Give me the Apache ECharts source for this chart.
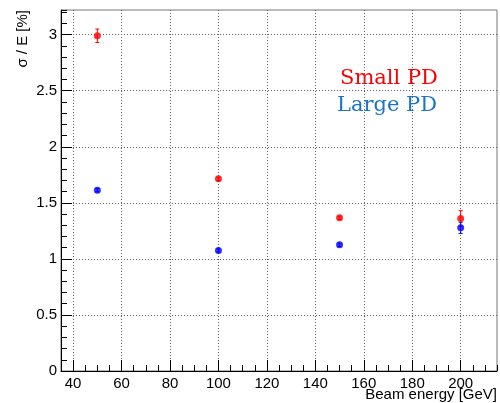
<!DOCTYPE html>
<html>
<head>
<meta charset="utf-8">
<script src="https://cdn.jsdelivr.net/npm/echarts@6/dist/echarts.min.js"></script>
<style>html,body{margin:0;padding:0;background:#fff}#c{width:500px;height:403px}</style>
</head>
<body>
<div id="c"></div>
<script>
const energies = [50, 100, 150, 200];
const smallPD = [2.99, 1.714, 1.366, 1.36];
const smallErr = [0.06, 0.015, 0.015, 0.07];
const largePD = [1.613, 1.075, 1.125, 1.277];
const largeErr = [0.015, 0.015, 0.015, 0.05];
const xTicks = [40, 60, 80, 100, 120, 140, 160, 180, 200];
const yTicks = [0, 0.5, 1, 1.5, 2, 2.5, 3];
const xRange = [35, 215];
const yRange = [0, 3.22];

const chart = echarts.init(document.getElementById('c'), null, {renderer: 'canvas'});

function errData(vals, errs) {
  return energies.map((e, i) => [e, vals[i], errs[i]]);
}
function errRender(color) {
  return function (params, api) {
    const x = api.value(0), y = api.value(1), e = api.value(2);
    const top = api.coord([x, y + e]);
    const bot = api.coord([x, y - e]);
    const st = {stroke: color, lineWidth: 1};
    return {
      type: 'group',
      children: [
        {type: 'line', shape: {x1: top[0], y1: top[1], x2: bot[0], y2: bot[1]}, style: st},
        {type: 'line', shape: {x1: top[0] - 2, y1: top[1], x2: top[0] + 2, y2: top[1]}, style: st},
        {type: 'line', shape: {x1: bot[0] - 2, y1: bot[1], x2: bot[0] + 2, y2: bot[1]}, style: st}
      ]
    };
  };
}

const font = 'Liberation Sans, Arial, sans-serif';
chart.setOption({
  animation: false,
  backgroundColor: '#fff',
  grid: {left: 61, top: 10, right: 3, bottom: 32, show: true, borderColor: '#777', borderWidth: 1},
  xAxis: [
    {
      type: 'value', min: xRange[0], max: xRange[1], position: 'bottom',
      axisLine: {show: true, onZero: false, lineStyle: {color: '#000', width: 1}},
      axisTick: {show: true, inside: true, length: 11, customValues: xTicks, lineStyle: {color: '#000'}},
      axisLabel: {customValues: xTicks, color: '#000', fontSize: 15, fontFamily: font, margin: 5},
      splitLine: {show: true, lineStyle: {color: '#666', type: [1, 2], width: 1}}
    },
    {
      type: 'value', min: xRange[0], max: xRange[1], interval: 5, position: 'bottom',
      axisLine: {show: false}, axisLabel: {show: false}, splitLine: {show: false},
      axisTick: {show: true, inside: true, length: 6, lineStyle: {color: '#000'}}
    }
  ],
  yAxis: [
    {
      type: 'value', min: yRange[0], max: yRange[1], position: 'left',
      axisLine: {show: true, onZero: false, lineStyle: {color: '#000', width: 1}},
      axisTick: {show: true, inside: true, length: 11, customValues: yTicks, lineStyle: {color: '#000'}},
      axisLabel: {customValues: yTicks, color: '#000', fontSize: 15, fontFamily: font, margin: 4},
      splitLine: {show: true, lineStyle: {color: '#666', type: [1, 2], width: 1}}
    },
    {
      type: 'value', min: yRange[0], max: yRange[1], interval: 0.1, position: 'left',
      axisLine: {show: false}, axisLabel: {show: false}, splitLine: {show: false},
      axisTick: {show: true, inside: true, length: 6, lineStyle: {color: '#000'}}
    }
  ],
  graphic: [
    {type: 'text', x: 23, y: 10, rotation: Math.PI / 2,
     style: {text: 'σ / E [%]', font: '15px ' + font, fill: '#000', textAlign: 'right', textVerticalAlign: 'middle'}},
    {type: 'text', x: 497, y: 395,
     style: {text: 'Beam energy [GeV]', font: '15px ' + font, fill: '#000', textAlign: 'right', textVerticalAlign: 'middle'}},
    {type: 'text', x: 340, y: 79,
     style: {text: 'Small PD', font: '21px DejaVu Serif, serif', fill: '#ff0000', textAlign: 'left', textVerticalAlign: 'middle'}},
    {type: 'text', x: 337, y: 106,
     style: {text: 'Large PD', font: '21px DejaVu Serif, serif', fill: '#1a74c8', textAlign: 'left', textVerticalAlign: 'middle'}}
  ],
  series: [
    {type: 'custom', name: 'Small PD err', renderItem: errRender('#ff0000'), data: errData(smallPD, smallErr), z: 3},
    {type: 'custom', name: 'Large PD err', renderItem: errRender('#0000ff'), data: errData(largePD, largeErr), z: 3},
    {type: 'scatter', name: 'Small PD', symbol: 'circle', symbolSize: 7, itemStyle: {color: '#ff0000'},
     data: energies.map((e, i) => [e, smallPD[i]]), z: 4},
    {type: 'scatter', name: 'Large PD', symbol: 'circle', symbolSize: 7, itemStyle: {color: '#0000ff'},
     data: energies.map((e, i) => [e, largePD[i]]), z: 4}
  ]
});
</script>
</body>
</html>
